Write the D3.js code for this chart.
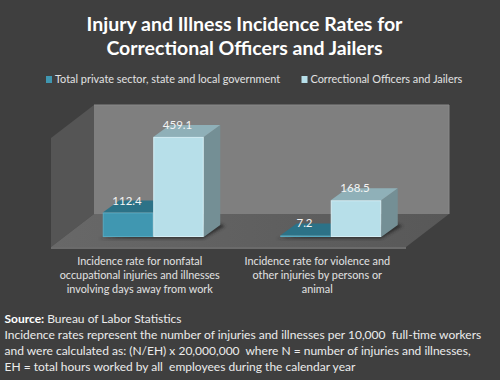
<!DOCTYPE html>
<html>
<head>
<meta charset="utf-8">
<script src="https://cdn.jsdelivr.net/npm/d3@7"></script>
<style>
  html, body { margin: 0; padding: 0; background: #3f3f3f; }
  svg { display: block; }
  text { font-family: Lato, "Open Sans", sans-serif; fill: #f0f0f0; white-space: pre; }
</style>
</head>
<body>
<script>
const categories = ['nonfatal', 'violence']
const categoryLines = [
  ['Incidence rate for nonfatal', 'occupational injuries and illnesses', 'involving days away from work'],
  ['Incidence rate for violence and', 'other injuries by persons or', 'animal']
]
const seriesNames = ['Total private sector, state and local government', 'Correctional Officers and Jailers']
const privateSector = [112.4, 7.2]
const officers = [459.1, 168.5]
const titleLines = ['Injury and Illness Incidence Rates for', 'Correctional Officers and Jailers']
const noteLines = [
  'Incidence rates represent the number of injuries and illnesses per 10,000  full-time workers',
  'and were calculated as: (N/EH) x 20,000,000  where N = number of injuries and illnesses,',
  'EH = total hours worked by all  employees during the calendar year'
]

const W = 500, H = 380
const floorFront = 247, wallDx = 43, wallDy = 33
const barDx = 16.5, barDy = 12

const SVG = d3.select('body').append('svg').attr('width', W).attr('height', H)
SVG.append('rect').attr('width', W).attr('height', H).attr('fill', '#3f3f3f')

const defs = SVG.append('defs')
defs.append('filter').attr('id', 'blur').append('feGaussianBlur').attr('stdDeviation', 1.6)
const lg = defs.append('linearGradient').attr('id', 'floorFill')
lg.append('stop').attr('offset', '0').attr('stop-color', '#686868')
lg.append('stop').attr('offset', '1').attr('stop-color', '#585858')

// x: categories across the front edge of the floor, y: value to height
const x0 = d3.scaleBand().domain(categories).range([51, 406])
const x1 = d3.scaleBand().domain(seriesNames)
  .range([x0.bandwidth() / 2 - 50.5, x0.bandwidth() / 2 + 50.5])
const y = d3.scaleLinear().domain([0, 500]).range([floorFront, floorFront - 109])

const poly = pts => 'M' + pts.map(p => p.join(',')).join('L') + 'Z'

const [fl, fr] = x0.range()
const yTop = y.range()[1]

// walls and floor
const box = SVG.append('g')
box.append('path').attr('fill', '#555555')
  .attr('d', poly([[fl, floorFront], [fl, yTop], [fl + wallDx, yTop - wallDy], [fl + wallDx, floorFront - wallDy]]))
box.append('path').attr('fill', '#7f7f7f')
  .attr('d', poly([[fl + wallDx, yTop - wallDy], [fr + wallDx, yTop - wallDy], [fr + wallDx, floorFront - wallDy], [fl + wallDx, floorFront - wallDy]]))
box.append('path').attr('fill', 'none').attr('stroke', '#8a8a8a').attr('stroke-width', 1)
  .attr('d', `M${fl + wallDx},${yTop - wallDy}H${fr + wallDx}V${floorFront - wallDy}`)
box.append('path').attr('fill', 'url(#floorFill)')
  .attr('d', poly([[fl, floorFront], [fl + wallDx, floorFront - wallDy], [fr + wallDx, floorFront - wallDy], [fr, floorFront]]))
box.append('rect').attr('x', fl).attr('y', floorFront).attr('width', fr - fl).attr('height', 2).attr('fill', '#6b6b6b')

const barStyles = [
  {front: '#4097b1', top: '#2c7287', side: '#2c6f83', edge: '#56a9c0'},
  {front: '#b7dfe9', top: '#8fb0b8', side: '#748f95', edge: '#d3eef5'}
]
const allSeries = [privateSector, officers]
const shiftX = 13.5, shiftY = 10

categories.forEach((c, i) => {
  const g = SVG.append('g').attr('transform', `translate(${x0(c) + shiftX},${-shiftY})`)
  // shadow falling on the floor
  const left = x1(seriesNames[0]), right = x1(seriesNames[1]) + x1.bandwidth()
  g.append('path').attr('fill', '#222').attr('opacity', 0.75).attr('filter', 'url(#blur)')
    .attr('d', poly([[left - 4, floorFront + 1.5], [right, floorFront + 1.5], [right + barDx + 5, floorFront - barDy + 1], [right + barDx - 3, floorFront - barDy - 2]]))

  seriesNames.forEach((s, j) => {
    const v = allSeries[j][i], st = barStyles[j]
    const a = x1(s), b = a + x1.bandwidth(), t = y(v), base = y(0)
    g.append('path').attr('fill', st.side)
      .attr('d', poly([[b, t], [b + barDx, t - barDy], [b + barDx, base - barDy], [b, base]]))
    g.append('path').attr('fill', st.top)
      .attr('d', poly([[a, t], [a + barDx, t - barDy], [b + barDx, t - barDy], [b, t]]))
    g.append('rect').attr('x', a + 0.5).attr('y', t + 0.5)
      .attr('width', x1.bandwidth() - 1).attr('height', Math.max(base - t - 1, 0))
      .attr('fill', st.front).attr('stroke', st.edge).attr('stroke-width', 1)
  })
  // value labels go on top of both bars
  seriesNames.forEach((s, j) => {
    const v = allSeries[j][i]
    g.append('text').attr('x', x1(s) + x1.bandwidth() / 2 - 1).attr('y', y(v) - barDy)
      .attr('dy', '0.35em').attr('text-anchor', 'middle').attr('font-size', 11.5)
      .style('fill', '#f4f4f4').text(d3.format('.1f')(v))
  })
})

// category labels
categories.forEach((c, i) => {
  SVG.append('g').selectAll('text').data(categoryLines[i]).join('text')
    .attr('x', x0(c) + x0.bandwidth() / 2)
    .attr('y', (d, k) => 261 + k * 14.2)
    .attr('dy', '0.35em').attr('text-anchor', 'middle').attr('font-size', 10.85)
    .style('fill', '#e2e2e2').text(d => d)
})

// title
SVG.append('g').selectAll('text').data(titleLines).join('text')
  .attr('x', 244.5).attr('y', (d, k) => 24 + k * 24.5)
  .attr('dy', '0.35em').attr('text-anchor', 'middle')
  .attr('font-size', 19.5).attr('font-weight', 700).style('fill', '#fff').text(d => d)

// legend
const legendX = [46, 301.5]
seriesNames.forEach((s, j) => {
  SVG.append('rect').attr('x', legendX[j]).attr('y', 76).attr('width', 6).attr('height', 7)
    .attr('fill', barStyles[j].front)
  SVG.append('text').attr('x', legendX[j] + 9).attr('y', 79)
    .attr('dy', '0.35em').attr('font-size', 10.9).style('fill', '#e2e2e2').text(s)
})

// source and note
const src = SVG.append('text').attr('x', 4.5).attr('y', 319).attr('dy', '0.35em').attr('font-size', 12)
src.append('tspan').attr('font-weight', 700).style('fill', '#fff').text('Source: ')
src.append('tspan').style('fill', '#ececec').text('Bureau of Labor Statistics')
SVG.append('g').selectAll('text').data(noteLines).join('text')
  .attr('x', 4.5).attr('y', (d, k) => 335 + k * 15.7)
  .attr('dy', '0.35em').attr('font-size', 12).style('fill', '#ececec').text(d => d)
</script>
</body>
</html>
